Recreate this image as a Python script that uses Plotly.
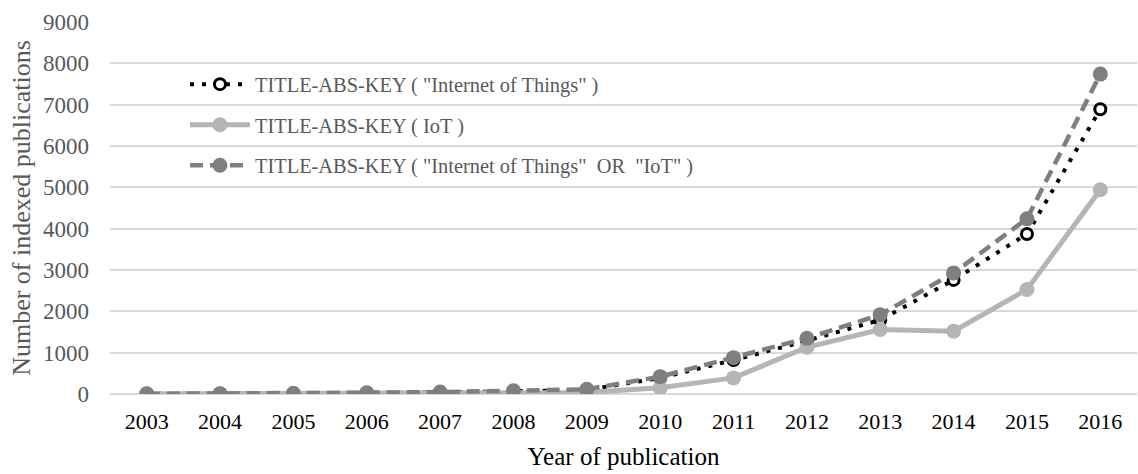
import plotly.graph_objects as go

years = ["2003", "2004", "2005", "2006", "2007", "2008", "2009",
         "2010", "2011", "2012", "2013", "2014", "2015", "2016"]
iot_full = [4, 7, 14, 26, 40, 65, 95, 390, 820, 1290, 1790, 2760, 3870, 6890]
iot_abbr = [2, 3, 5, 8, 12, 18, 35, 150, 390, 1130, 1560, 1520, 2530, 4940]
iot_both = [5, 9, 17, 32, 48, 78, 115, 420, 880, 1350, 1920, 2930, 4240, 7740]

names = ['TITLE-ABS-KEY ( "Internet of Things" )',
         'TITLE-ABS-KEY ( IoT )',
         'TITLE-ABS-KEY ( "Internet of Things"  OR  "IoT" )']

FONT = "Liberation Serif, Times New Roman, serif"

fig = go.Figure()
fig.add_trace(go.Scatter(
    x=years, y=iot_full, name=names[0], mode="lines+markers", legendgroup="a",
    line=dict(color="#000000", width=4, dash="4px,8px"),
    marker=dict(symbol="circle", size=11, color="#ffffff",
                line=dict(color="#000000", width=3))))
fig.add_trace(go.Scatter(
    x=years, y=iot_abbr, name=names[1], mode="lines+markers", legendgroup="b",
    line=dict(color="#b5b5b5", width=5),
    marker=dict(symbol="circle", size=15, color="#b5b5b5")))
fig.add_trace(go.Scatter(
    x=years, y=iot_both, name=names[2], mode="lines+markers", legendgroup="c",
    line=dict(color="#7f7f7f", width=4.5, dash="13px,7px"),
    marker=dict(symbol="circle", size=15, color="#7f7f7f")))

fig.update_layout(
    width=1138, height=474,
    margin=dict(l=110, r=1, t=22, b=80),
    paper_bgcolor="white", plot_bgcolor="white",
    font=dict(family=FONT, size=20, color="#595959"),
    showlegend=True,
    legend=dict(x=0.073, y=0.886, xanchor="left", yanchor="top",
                bgcolor="rgba(255,255,255,0)",
                font=dict(family=FONT, size=20.4, color="#595959"),
                traceorder="grouped", tracegroupgap=11, itemwidth=60),
    xaxis=dict(type="category", range=[-0.5, 13.5], showgrid=False,
               showline=False, zeroline=False, ticks="", automargin=False,
               ticklabelstandoff=12,
               tickfont=dict(family=FONT, size=22, color="#000000"),
               title=dict(text="Year of publication", standoff=14,
                          font=dict(family=FONT, size=25, color="#000000"))),
    yaxis=dict(range=[0, 9000], dtick=1000, showgrid=True,
               gridcolor="#d9d9d9", gridwidth=1.5, zeroline=True,
               zerolinecolor="#d9d9d9", zerolinewidth=1.5, automargin=False,
               showline=False, ticks="", ticklabelstandoff=20,
               tickfont=dict(family=FONT, size=23, color="#595959"),
               title=dict(text="Number of indexed publications", standoff=4,
                          font=dict(family=FONT, size=26, color="#595959"))),
)

fig.write_html("out.html", config={"displayModeBar": False},
               post_script="document.body.style.margin='0';")
